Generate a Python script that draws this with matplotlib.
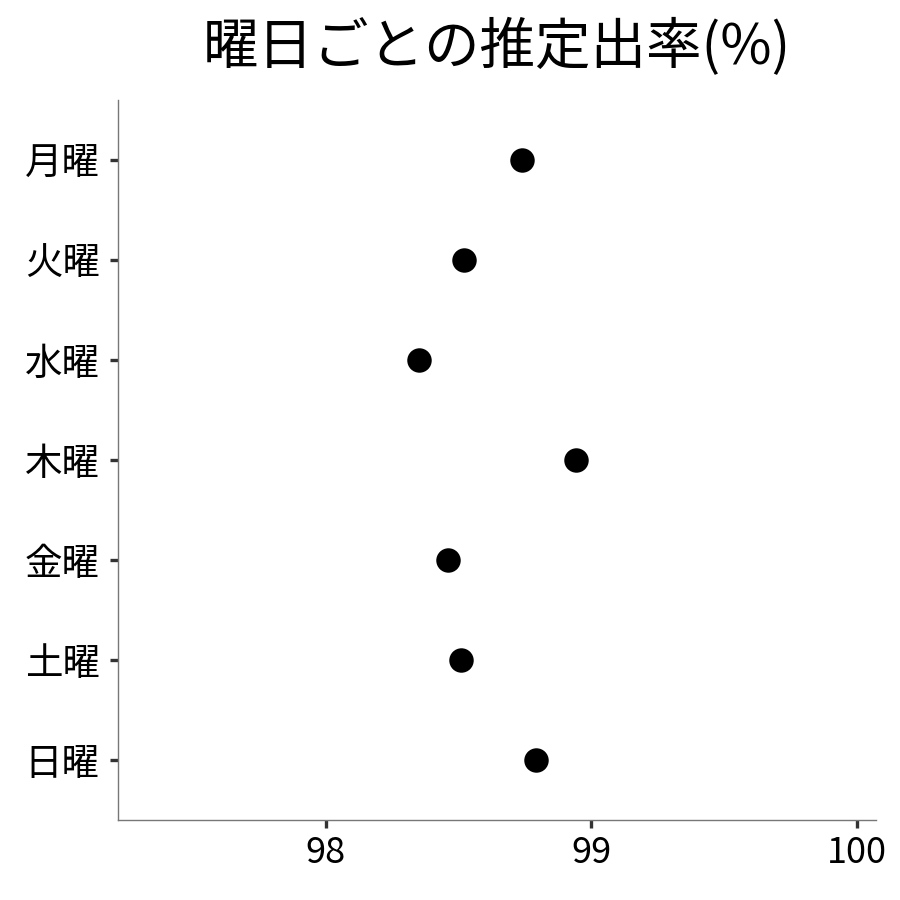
import matplotlib
matplotlib.use("Agg")
import matplotlib.pyplot as plt

plt.rcParams['font.family'] = ['Noto Sans CJK JP', 'DejaVu Sans']

days = ["月曜", "火曜", "水曜", "木曜", "金曜", "土曜", "日曜"]
rates = [98.74, 98.52, 98.35, 98.94, 98.46, 98.51, 98.79]
xticks = [98, 99, 100]
title = "曜日ごとの推定出率(%)"

fig = plt.figure(figsize=(9, 9), dpi=100)
ax = fig.add_axes([0.131, 0.089, 0.842, 0.8])

ypos = list(range(len(days)))
ax.scatter(rates, ypos, s=310, color="black", zorder=3, linewidths=0)

ax.set_yticks(ypos)
ax.set_yticklabels(days)
ax.set_ylim(6.6, -0.6)
ax.set_xlim(97.217, 100.07)
ax.set_xticks(xticks)
ax.set_xticklabels([str(v) for v in xticks])

for s in ["top", "right"]:
    ax.spines[s].set_visible(False)
for s in ["left", "bottom"]:
    ax.spines[s].set_color("#777777")
    ax.spines[s].set_linewidth(1.0)

ax.tick_params(axis="both", colors="#333333", width=2.4, length=6, labelcolor="black")
ax.tick_params(axis="y", pad=7)
ax.tick_params(axis="x", pad=5)
for lab in ax.get_yticklabels():
    lab.set_fontsize(27)
for lab in ax.get_xticklabels():
    lab.set_fontsize(26)

ax.set_title(title, fontsize=40, pad=26, color="black")

fig.savefig("out.png", dpi=100, facecolor="white")
